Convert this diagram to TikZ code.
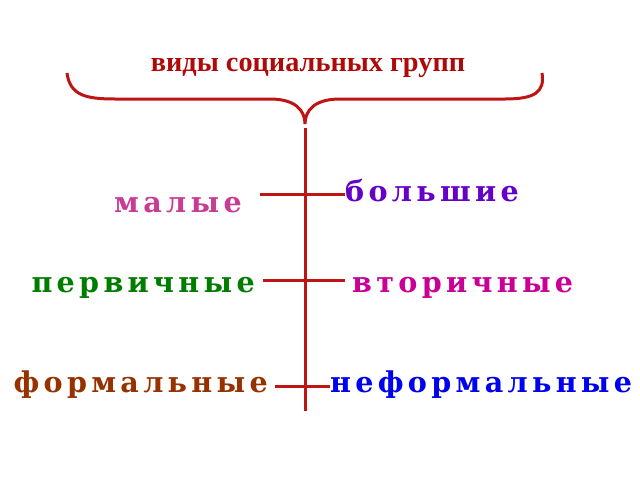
\documentclass[tikz,border=0pt]{standalone}
\usepackage{fontspec}
\usepackage{tikz}
\usetikzlibrary{positioning}
\newfontfamily\titlefont{Liberation Serif}
\newfontfamily\labelfont{DejaVu Serif}[LetterSpace=15]
\definecolor{linered}{RGB}{190,20,20}
\definecolor{titlered}{RGB}{175,10,10}
\definecolor{malcol}{RGB}{200,60,150}
\definecolor{bolcol}{RGB}{100,0,200}
\definecolor{percol}{RGB}{0,125,0}
\definecolor{vtocol}{RGB}{200,0,150}
\definecolor{forcol}{RGB}{150,50,0}
\definecolor{necol}{RGB}{0,0,240}
\tikzstyle{Line}=[draw=linered, line width=3pt]
\tikzstyle{Label}=[inner sep=0pt, font=\labelfont\bfseries\fontsize{28.6}{34}\selectfont]

\begin{document}
\begin{tikzpicture}[x=1pt, y=-1pt]
			\useasboundingbox (0, 0) rectangle (640, 480);
			\node[inner sep=0pt, anchor=base, text=titlered, font=\titlefont\bfseries\fontsize{28.3}{34}\selectfont] (title) at (308, 71) {виды социальных групп};
			\draw[Line] (67, 73) .. controls (70, 95) and (85, 99) .. (115, 99) -- (270, 99)
			.. controls (295, 99) and (305, 110) .. (305, 124)
			.. controls (305, 110) and (315, 99) .. (340, 99) -- (505, 99)
			.. controls (535, 99) and (545, 92) .. (542, 73);
		
			\coordinate (top) at (305, 128);
			\coordinate (bot) at (305, 411);
			\draw[Line] (top) -- (bot);
		
			\node[Label, anchor=base east, text=malcol] (malye) at (242, 212) {малые};
			\node[Label, anchor=base west, text=bolcol] (bolshie) at (345, 201) {большие};
			\node[Label, anchor=base east, text=percol] (pervichnye) at (255, 292) {первичные};
			\node[Label, anchor=base west, text=vtocol] (vtorichnye) at (352, 292) {вторичные};
			\node[Label, anchor=base east, text=forcol] (formalnye) at (268, 392) {формальные};
			\node[Label, anchor=base west, text=necol] (neformalnye) at (330, 392) {неформальные};
		
			\coordinate (a1) at (260, 194);
			\coordinate (b1) at (345, 194);
			\coordinate (a2) at (263, 280);
			\coordinate (b2) at (345, 280);
			\coordinate (a3) at (275, 386);
			\coordinate (b3) at (330, 386);
			\path[Line] (a1) edge (b1) (a2) edge (b2) (a3) edge (b3);
		\end{tikzpicture}
\end{document}
